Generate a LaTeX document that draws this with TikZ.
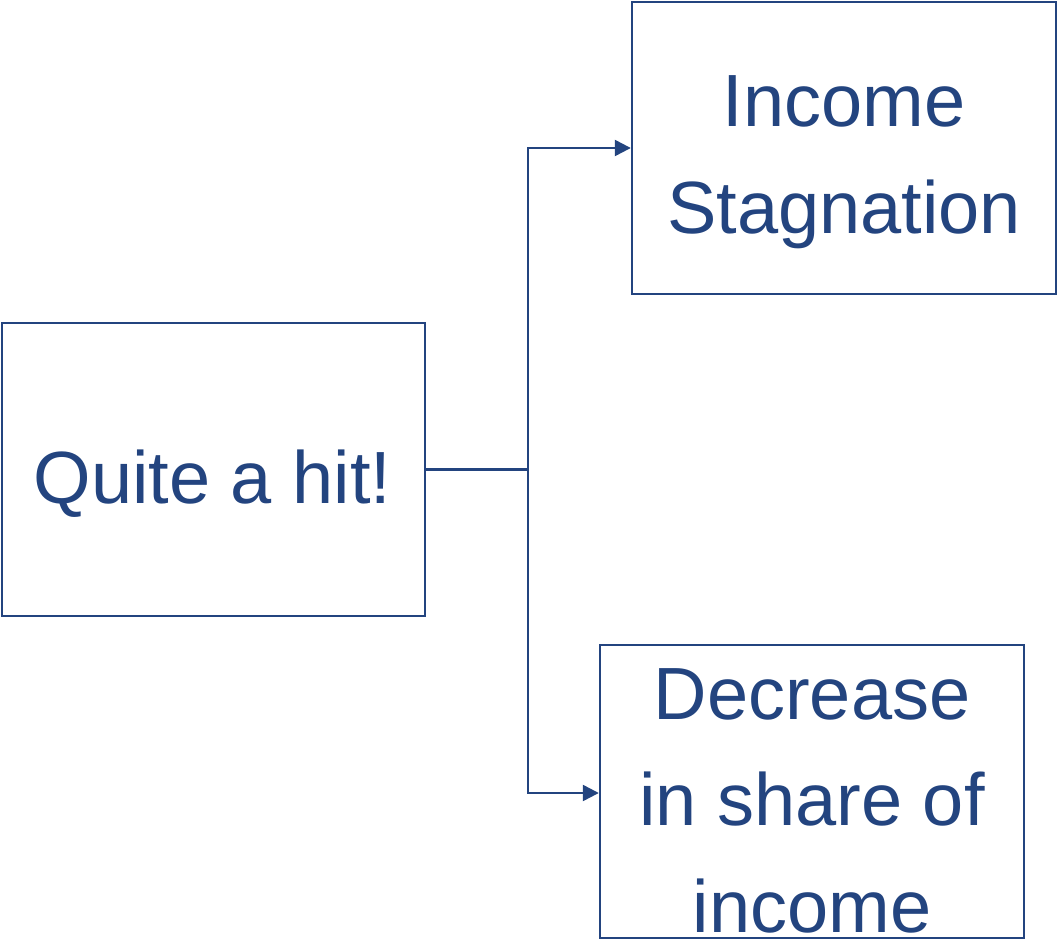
\documentclass[tikz,border=0pt]{standalone}
\usepackage{fontspec}
\setmainfont{Liberation Sans}
\usetikzlibrary{arrows.meta}
\definecolor{mainblue}{HTML}{23447F}
\begin{document}
\begin{tikzpicture}[x=1pt,y=-1pt,
  box/.style={draw=mainblue,line width=2.4pt,minimum width=#1,inner sep=0pt},
  txt/.style={text=mainblue,font=\fontsize{74}{107}\selectfont,align=center,inner sep=0pt},
  conn/.style={draw=mainblue,line width=2.4pt},
  arr/.style={conn,-{Triangle[length=16pt,width=16pt]}}]
\useasboundingbox (0,0) rectangle (1058,942);
\node[box=423pt,minimum height=293pt] (a) at (213.5,469.5) {};
\node[box=424pt,minimum height=292pt] (b) at (844,148) {};
\node[box=424pt,minimum height=293pt] (c) at (812,791.5) {};
\node[txt,anchor=base] (ta) at (212.5,503) {Quite a hit!};
\node[txt,anchor=base] (tb1) at (844,126) {Income};
\node[txt,anchor=base] (tb2) at (844,233) {Stagnation};
\node[txt,anchor=base] (tc1) at (812,719) {Decrease};
\node[txt,anchor=base] (tc2) at (812,825) {in share of};
\node[txt,anchor=base] (tc3) at (812,932) {income};
\coordinate (j) at (528,469.5);
\draw[conn] (a.east) -- (j);
\draw[arr] (j) |- (b.west);
\draw[arr] (j) |- (c.west |- 0,793);
\end{tikzpicture}
\end{document}
